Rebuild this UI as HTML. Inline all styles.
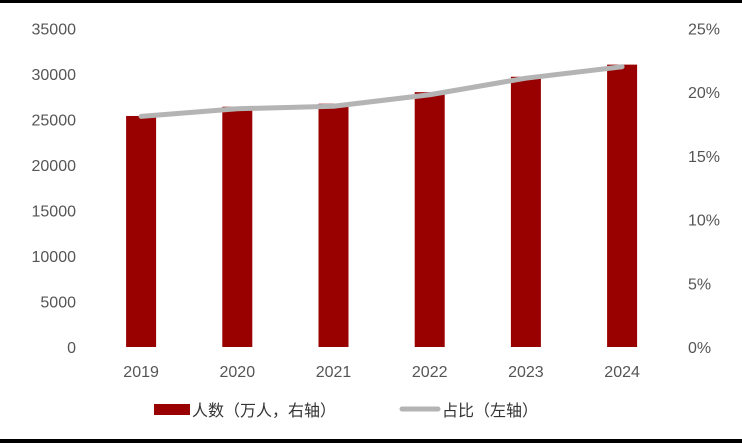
<!DOCTYPE html>
<html><head><meta charset="utf-8"><style>
body{margin:0;background:#fff;width:742px;height:443px;overflow:hidden}
svg text{font-family:"Liberation Sans","Noto Sans CJK SC",sans-serif;fill:#555;font-size:16px}
</style></head><body>
<svg id="c" width="742" height="443">
<rect x="0" y="0" width="742" height="3" fill="#000"/>
<rect x="0" y="439" width="742" height="4" fill="#000"/>
<g id="bars"></g><g id="line"></g><g id="axes"></g>
<g>
<rect x="154" y="404" width="36" height="11" fill="#990000"/>
<text x="192" y="416" style="fill:#333">人数（万人，右轴）</text>
<line x1="402" y1="409" x2="438" y2="409" stroke="#b4b4b4" stroke-width="5" stroke-linecap="round"/>
<text x="442" y="416" style="fill:#333">占比（左轴）</text>
</g>
</svg>
<script>
const categories=["2019","2020","2021","2022","2023","2024"];
const people=[25388,26402,26736,28004,29697,31031];
const share=[18.1,18.7,18.9,19.8,21.1,22.0];
const leftTicks=[0,5000,10000,15000,20000,25000,30000,35000];
const rightTicks=[0,5,10,15,20,25];
const ns="http://www.w3.org/2000/svg";
const y0=347,yTop=28.5,x0=93,band=96.2;
const yL=v=>y0-(v/35000)*(y0-yTop);
const yR=v=>y0-(v/25)*(y0-yTop);
const xC=i=>x0+band*(i+0.5);
function mk(t,a,p){const e=document.createElementNS(ns,t);for(const k in a)e.setAttribute(k,a[k]);p.appendChild(e);return e;}
const gb=document.getElementById('bars'),gl=document.getElementById('line'),ga=document.getElementById('axes');
people.forEach((v,i)=>{const r=mk('rect',{x:xC(i)-15,y:yL(v),width:30,height:y0-yL(v),fill:'#990000'},gb);

});
const pl=mk('polyline',{points:share.map((v,i)=>xC(i)+','+yR(v)).join(' '),fill:'none',stroke:'#b4b4b4','stroke-width':5,'stroke-linejoin':'round','stroke-linecap':'round'},gl);


leftTicks.forEach(v=>{const t=mk('text',{x:76,y:yL(v)+6,'text-anchor':'end'},ga);t.textContent=v;

});
rightTicks.forEach(v=>{const t=mk('text',{x:688,y:yR(v)+6,'text-anchor':'start'},ga);t.textContent=v+'%';

});
categories.forEach((c,i)=>{const t=mk('text',{x:xC(i),y:377,'text-anchor':'middle'},ga);t.textContent=c;

});
</script>
</body></html>
